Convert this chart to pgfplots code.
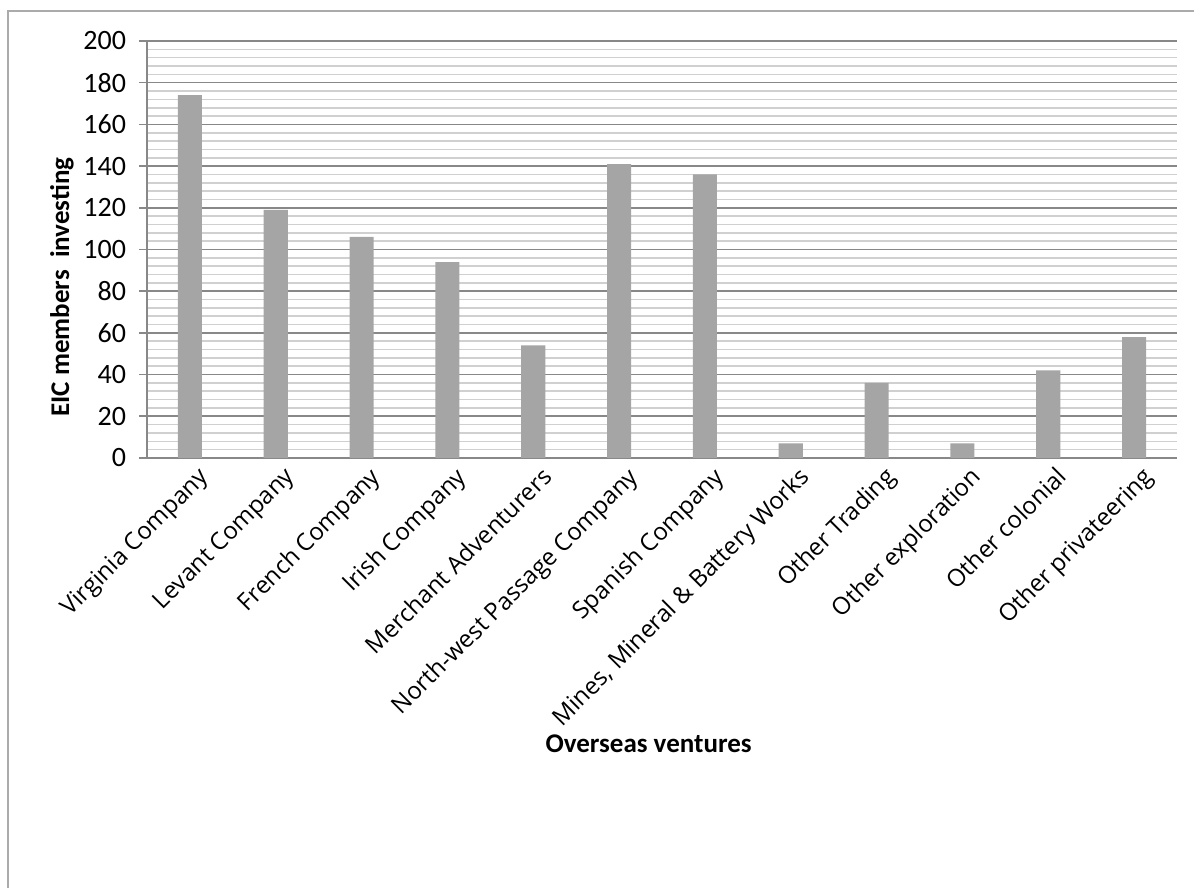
\documentclass[border=0pt]{standalone}
\usepackage{pgfplots}
\pgfplotsset{compat=1.18}
\usepackage{fontspec}
\setmainfont{Carlito}
\newfontfamily\catfont{Open Sans}
\definecolor{barfill}{HTML}{A5A5A5}
\definecolor{majgrid}{HTML}{888888}
\definecolor{mingrid}{HTML}{D0D0D0}
\definecolor{framec}{HTML}{ABABAB}
\begin{document}
\begin{tikzpicture}
\path[use as bounding box] (0,0) rectangle (597bp,444bp);
\draw[framec, line width=1bp] (4bp,0) -- (4bp,438.5bp) -- (597bp,438.5bp);
\begin{axis}[
  at={(73.5bp,215bp)}, anchor=south west,
  width=515bp, height=208.5bp, scale only axis,
  ymin=0, ymax=200, xmin=-0.5, xmax=11.5,
  ytick={0,20,...,200}, minor y tick num=4,
  ymajorgrids, yminorgrids,
  major grid style={majgrid, line width=0.8bp},
  minor grid style={mingrid, line width=0.8bp},
  axis x line*=bottom, axis y line*=left,
  axis line style={majgrid, line width=0.8bp},
  y axis line style={-},
  x axis line style={-},
  ytick style={majgrid, line width=0.8bp},
  major tick length=4bp,
  minor tick length=0pt,
  ytick align=outside,
  xtick=data, xtick style={draw=none},
  xticklabels={Virginia Company, Levant Company, French Company, Irish Company, Merchant Adventurers, North-west Passage Company, Spanish Company, {Mines, Mineral \& Battery Works}, Other Trading, Other exploration, Other colonial, Other privateering},
  xticklabel style={rotate=45, anchor=north east, font=\catfont\fontsize{12bp}{14bp}\selectfont, inner sep=1bp, xshift=1bp, yshift=-4bp},
  yticklabel style={font=\fontsize{14bp}{16bp}\selectfont, xshift=-3bp},
  /pgf/number format/assume math mode=true,
  ylabel={\textbf{EIC members\ \ investing}},
  xlabel={\textbf{Overseas ventures}},
  ylabel style={font=\fontsize{13.5bp}{15bp}\selectfont, at={(axis description cs:-0.0825,0.41)}, anchor=center},
  xlabel style={font=\fontsize{13.5bp}{15bp}\selectfont, at={(axis description cs:0.487,-0.686)}, anchor=center},
]
\addplot[ybar, bar width=0.28, fill=barfill, draw=none] coordinates {
(0,174) (1,119) (2,106) (3,94) (4,54) (5,141) (6,136) (7,7) (8,36) (9,7) (10,42) (11,58)
};
\end{axis}
\end{tikzpicture}
\end{document}
